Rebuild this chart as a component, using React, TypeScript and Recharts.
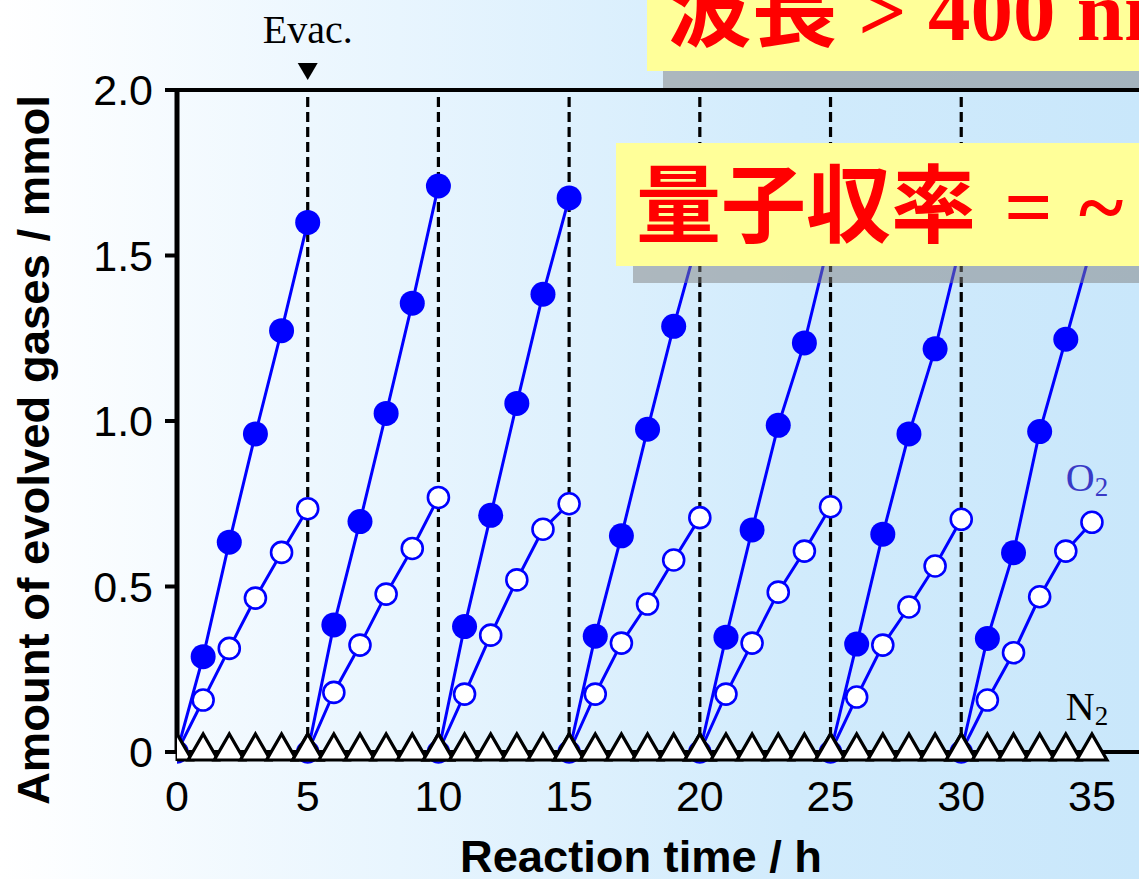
import React from "react";
import {
  ComposedChart,
  Line,
  Scatter,
  XAxis,
  YAxis,
  ReferenceLine,
  ReferenceDot,
} from "recharts";

// hours inside one 5 h run, and where each run starts on the time axis
const HOURS = [0, 1, 2, 3, 4, 5];
const RUN_STARTS = [0, 5, 10, 15, 20, 25, 30];
const EVAC_TIMES = [5, 10, 15, 20, 25, 30];
const X_TICKS = [0, 5, 10, 15, 20, 25, 30, 35];
const Y_TICKS = [0, 0.5, 1, 1.5, 2];

// filled circles (H2), mmol
const H2_RUNS = [
  [0, 0.288, 0.634, 0.961, 1.273, 1.6],
  [0, 0.384, 0.696, 1.023, 1.356, 1.71],
  [0, 0.379, 0.715, 1.053, 1.383, 1.674],
  [0, 0.35, 0.653, 0.975, 1.286, 1.57],
  [0, 0.347, 0.671, 0.987, 1.236, 1.56],
  [0, 0.326, 0.658, 0.961, 1.218, 1.54],
  [0, 0.343, 0.602, 0.968, 1.247, 1.53],
];

// open circles (O2), mmol
const O2_RUNS = [
  [0, 0.157, 0.313, 0.465, 0.603, 0.735],
  [0, 0.18, 0.323, 0.477, 0.615, 0.769],
  [0, 0.175, 0.353, 0.52, 0.673, 0.75],
  [0, 0.175, 0.329, 0.447, 0.58, 0.708],
  [0, 0.175, 0.329, 0.483, 0.607, 0.741],
  [0, 0.166, 0.323, 0.438, 0.562, 0.703],
  [0, 0.157, 0.3, 0.469, 0.607, 0.694],
];

// triangles (N2), mmol
const N2_RUNS = [
  [0, 0, 0, 0, 0, 0],
  [0, 0, 0, 0, 0, 0],
  [0, 0, 0, 0, 0, 0],
  [0, 0, 0, 0, 0, 0],
  [0, 0, 0, 0, 0, 0],
  [0, 0, 0, 0, 0, 0],
  [0, 0, 0, 0, 0, 0],
];

const SANS = "'Liberation Sans', Arial, sans-serif";
const SERIF = "'Liberation Serif', 'Times New Roman', serif";
const CJK = "'Noto Sans CJK JP', sans-serif";
const BLUE = "#0000ff";

const toPoints = (runs: number[][]) =>
  runs.map((vals, i) =>
    HOURS.map((h, j) => ({ x: RUN_STARTS[i] + h, y: vals[j] }))
  );

const h2Points = toPoints(H2_RUNS);
const o2Points = toPoints(O2_RUNS);
const n2Points = toPoints(N2_RUNS);

const FilledDot = (props: any) => {
  const { cx, cy, payload, index } = props;
  if (payload.y === 0) return <g key={`f-${index}`} />;
  return <circle key={`f-${index}`} cx={cx} cy={cy} r={12.5} fill={BLUE} stroke="none" />;
};

const OpenDot = (props: any) => {
  const { cx, cy, index } = props;
  return (
    <circle key={`o-${index}`} cx={cx} cy={cy} r={10.5} fill="#fff" stroke={BLUE} strokeWidth={2.6} />
  );
};

const Triangle = (props: any) => {
  const { cx, cy } = props;
  const pts = `${cx - 15},${cy + 8} ${cx + 15},${cy + 8} ${cx},${cy - 18}`;
  return <polygon points={pts} fill="#fff" stroke="#000" strokeWidth={3.2} />;
};

const renderEvac = (props: any) => {
  const { viewBox } = props;
  const x = viewBox.x;
  const y = viewBox.y;
  return (
    <g>
      <text x={x} y={y - 47} textAnchor="middle" fontFamily={SERIF} fontSize={40} fill="#000">
        Evac.
      </text>
      <polygon points={`${x - 10},${y - 27} ${x + 10},${y - 27} ${x},${y - 10}`} fill="#000" />
    </g>
  );
};

const gasLabel = (name: string, color: string) => (props: any) => {
  const { viewBox } = props;
  const x = viewBox.x + viewBox.width / 2;
  const y = viewBox.y + viewBox.height / 2;
  return (
    <text x={x} y={y} fontFamily={SERIF} fontSize={40} fill={color}>
      {name}
      <tspan fontSize={27} dy={5}>2</tspan>
    </text>
  );
};

const renderYTitle = (props: any) => {
  const { viewBox } = props;
  const cy = viewBox.y + 360;
  return (
    <text
      x={49}
      y={cy}
      transform={`rotate(-90, 49, ${cy})`}
      textAnchor="middle"
      fontFamily={SANS}
      fontWeight="bold"
      fontSize={45}
      textLength={710}
      lengthAdjust="spacingAndGlyphs"
      fill="#000"
    >
      Amount of evolved gases / mmol
    </text>
  );
};

const renderXTitle = (props: any) => {
  const { viewBox } = props;
  return (
    <text
      x={viewBox.x + 464}
      y={viewBox.y + 120}
      textAnchor="middle"
      fontFamily={SANS}
      fontWeight="bold"
      fontSize={44}
      textLength={362}
      lengthAdjust="spacingAndGlyphs"
      fill="#000"
    >
      Reaction time / h
    </text>
  );
};

export default function App() {
  return (
    <div
      style={{
        position: "absolute",
        left: 0,
        top: 0,
        width: 1139,
        height: 879,
        overflow: "hidden",
        background:
          "linear-gradient(90deg, #ffffff 0%, #e8f5fe 35%, #d1ebfc 70%, #c9e7fb 100%)",
      }}
    >
      <ComposedChart width={1139} height={879} margin={{ top: 90, right: 0, bottom: 0, left: 0 }}>
        <XAxis
          type="number"
          dataKey="x"
          domain={[0, 36.8]}
          ticks={X_TICKS}
          interval={0}
          allowDataOverflow
          allowDuplicatedCategory={false}
          height={127}
          axisLine={{ stroke: "#000", strokeWidth: 4 }}
          tickLine={{ stroke: "#000", strokeWidth: 3 }}
          tickSize={9}
          tickMargin={19}
          tick={{ fontSize: 43, fill: "#000", fontFamily: SANS }}
          label={{ content: renderXTitle }}
        />
        <YAxis
          type="number"
          dataKey="y"
          domain={[0, 2]}
          ticks={Y_TICKS}
          interval={0}
          width={177}
          axisLine={{ stroke: "#000", strokeWidth: 5 }}
          tickLine={{ stroke: "#000", strokeWidth: 4 }}
          tickSize={12}
          tickMargin={12}
          tick={{ fontSize: 43, fill: "#000", fontFamily: SANS }}
          tickFormatter={(v: number) => (v === 0 ? "0" : v.toFixed(1))}
          label={{ content: renderYTitle }}
        />
        <ReferenceLine y={2} stroke="#000" strokeWidth={4} />
        {EVAC_TIMES.map((t) => (
          <ReferenceLine
            key={`evac-${t}`}
            x={t}
            stroke="#000"
            strokeWidth={3.2}
            strokeDasharray="10 5"
            label={t === 5 ? renderEvac : undefined}
          />
        ))}
        {o2Points.map((run, i) => (
          <Line
            key={`o2-${i}`}
            data={run}
            dataKey="y"
            type="linear"
            stroke={BLUE}
            strokeWidth={3}
            dot={OpenDot}
            activeDot={false}
            isAnimationActive={false}
          />
        ))}
        {h2Points.map((run, i) => (
          <Line
            key={`h2-${i}`}
            data={run}
            dataKey="y"
            type="linear"
            stroke={BLUE}
            strokeWidth={3}
            dot={FilledDot}
            activeDot={false}
            isAnimationActive={false}
          />
        ))}
        {n2Points.map((run, i) => (
          <Scatter key={`n2-${i}`} data={run} dataKey="y" shape={Triangle} isAnimationActive={false} />
        ))}
        <ReferenceDot x={34} y={0.789} r={0} fill="none" stroke="none" label={gasLabel("O", "#3a3ac6")} />
        <ReferenceDot x={34} y={0.097} r={0} fill="none" stroke="none" label={gasLabel("N", "#000")} />
      </ComposedChart>

      <svg
        width={1139}
        height={879}
        style={{ position: "absolute", left: 0, top: 0, pointerEvents: "none" }}
      >
        <rect x={663} y={-40} width={600} height={128} fill="rgba(127,127,127,0.5)" />
        <rect x={647} y={-57} width={600} height={128} fill="#ffff99" />
        <text x={667} y={40} fontSize={85} fontWeight="bold" fill="#ff0000">
          <tspan fontFamily={CJK}>波長</tspan>
          <tspan fontFamily={SERIF}> &gt; 400 nm</tspan>
        </text>
        <rect x={633} y={160} width={600} height={123} fill="rgba(127,127,127,0.5)" />
        <rect x={616} y={143} width={600} height={123} fill="#ffff99" />
        <text x={636} y={236} fontSize={85} fontWeight="bold" fill="#ff0000">
          <tspan fontFamily={CJK}>量子収率</tspan>
          <tspan fontFamily={SERIF} dx={7}> =</tspan>
          <tspan fontFamily={SERIF} dx={5}> ~</tspan>
        </text>
      </svg>
    </div>
  );
}
